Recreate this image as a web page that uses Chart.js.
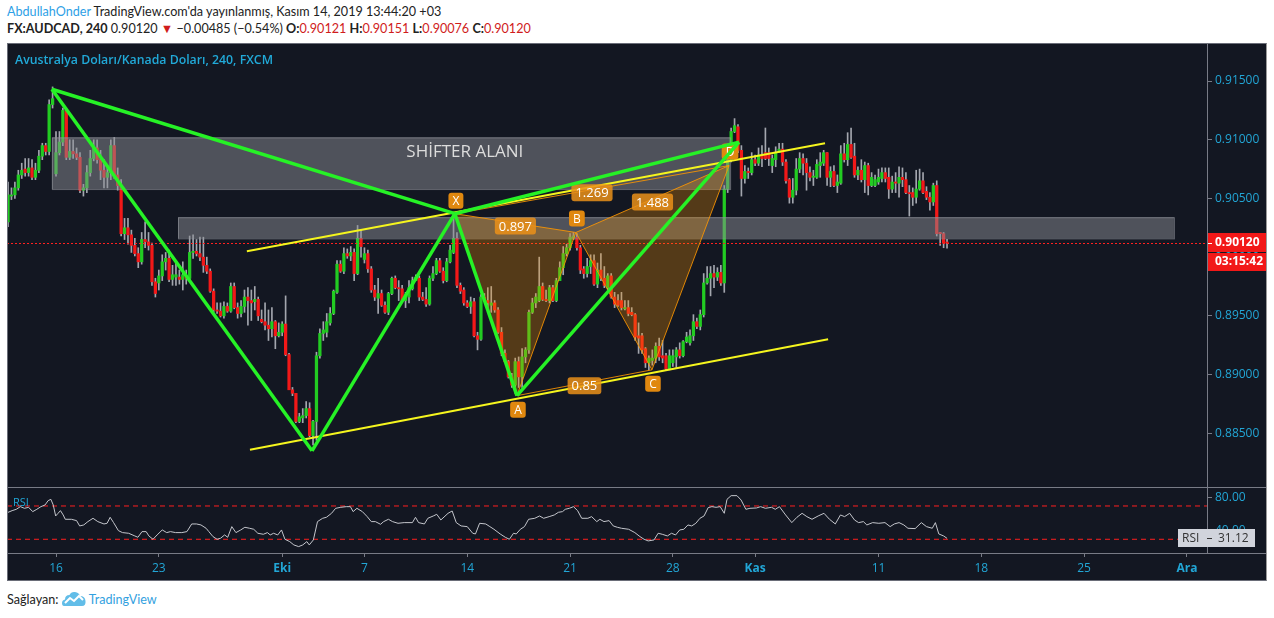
<!DOCTYPE html>
<html>
<head>
<meta charset="utf-8">
<script src="https://cdn.jsdelivr.net/npm/chart.js@4.4.0/dist/chart.umd.min.js"></script>
<style>
  body { margin:0; width:1274px; height:618px; background:#fff; position:relative; overflow:hidden; font-family:'Open Sans', sans-serif; }
  #h1 { position:absolute; left:7px; top:4px; font-family:Lato, sans-serif; font-size:12.6px; color:#222; white-space:nowrap; }
  #h1 .au { color:#2e9fe6; }
  #h2 { position:absolute; left:7px; top:21px; font-family:Lato, sans-serif; font-size:12.6px; color:#222; white-space:nowrap; }
  #h2 .r { color:#d01c1c; }
  #frame { position:absolute; left:7px; top:43px; width:1259px; height:537px; background:#131722; }
  #pricebox { position:absolute; left:0; top:0; }
  #rsibox { position:absolute; left:0; top:444px; }
  #border { position:absolute; left:7px; top:43px; width:1258px; height:536px; border:1px solid #6a6d78; border-right-color:#9a9a9a; pointer-events:none; }
  #title { position:absolute; left:15px; top:51px; font-size:12.3px; font-weight:600; color:#21a9d8; white-space:nowrap; }
  #foot { position:absolute; left:7px; top:591px; font-family:Lato, sans-serif; font-size:12.6px; color:#222; white-space:nowrap; display:flex; align-items:center; }
  #foot .tv { color:#33a1e0; margin-left:3px; }
</style>
</head>
<body>
<div id="h1"><span class="au">AbdullahOnder</span> TradingView.com'da yayınlanmış, Kasım 14, 2019 13:44:20 +03</div>
<div id="h2"><b>FX:AUDCAD, 240</b> 0.90120 <span class="r">▼</span> −0.00485 (−0.54%) <b>O:</b><span class="r">0.90121</span> <b>H:</b><span class="r">0.90151</span> <b>L:</b><span class="r">0.90076</span> <b>C:</b><span class="r">0.90120</span></div>
<div id="frame">
  <div id="pricebox"><canvas id="price" width="1259" height="444"></canvas></div>
  <div id="rsibox"><canvas id="rsi" width="1259" height="93"></canvas></div>
</div>
<div id="border"></div>
<div id="title">Avustralya Doları/Kanada Doları, 240, FXCM</div>
<div id="foot">Sağlayan:&nbsp;<svg width="24" height="16" viewBox="0 0 24 16"><path d="M2 15 Q0 15 0 12 Q0 9 3 8.5 Q3 4 7.5 4 Q9 0.5 13 1 Q17 1.5 18 5 Q23 5 23.5 10 Q24 15 20 15 Z" fill="#62bde8"/><path d="M3 12 L8 7 L12 10 L17 5 L21 9" stroke="#fff" stroke-width="2" fill="none"/></svg><span class="tv">TradingView</span></div>

<script>
// bar index 0 = first 4h bar of Mon 16 Sep 2019, 30 bars per week
const firstBar = -14

const opens = [
  .9030,.9052,.9053,.9059,.9070,.9075,.9072,.9076,.9068,.9074,
  .9086,.9095,.9090,.9130,.9071,.9089,.9098,.9125,.9085,.9090,
  .9088,.9085,.9057,.9059,.9072,.9084,.9093,.9083,.9074,.9068,
  .9072,.9095,.9070,.9061,.9020,.9025,.9019,.9010,.9003,.8996,
  .9015,.9013,.9010,.8979,.8978,.8984,.8996,.8999,.8981,.8983,
  .8983,.8981,.8983,.8982,.9004,.9005,.9003,.9000,.8993,.8988,
  .8971,.8955,.8954,.8950,.8958,.8954,.8975,.8957,.8952,.8958,
  .8966,.8963,.8962,.8964,.8947,.8945,.8942,.8939,.8945,.8933,
  .8936,.8943,.8917,.8887,.8884,.8860,.8863,.8865,.8871,.8848,
  .8860,.8916,.8935,.8936,.8944,.8952,.8970,.8994,.8988,.9003,
  .9001,.9004,.8986,.9016,.8998,.9003,.8990,.8972,.8965,.8969,
  .8959,.8953,.8969,.8982,.8974,.8973,.8963,.8966,.8973,.8980,
  .8982,.8966,.8964,.8960,.8982,.8986,.8997,.8988,.8980,.8996,
  .9004,.9016,.8976,.8972,.8961,.8958,.8962,.8933,.8930,.8966,
  .8963,.8959,.8961,.8955,.8936,.8918,.8911,.8898,.8891,.8911,
  .8898,.8915,.8921,.8953,.8961,.8963,.8975,.8964,.8963,.8974,
  .8963,.8980,.8991,.9003,.9008,.9016,.9017,.9008,.8990,.8986,
  .8992,.8997,.8977,.8989,.8982,.8974,.8984,.8966,.8963,.8963,
  .8956,.8957,.8953,.8951,.8933,.8933,.8922,.8910,.8912,.8914,
  .8924,.8916,.8916,.8905,.8910,.8915,.8921,.8916,.8928,.8927,
  .8933,.8945,.8941,.8951,.8978,.8982,.8986,.8983,.8987,.8978,
  .9058,.9083,.9107,.9111,.9091,.9067,.9073,.9072,.9083,.9080,
  .9087,.9089,.9089,.9078,.9083,.9089,.9092,.9081,.9066,.9051,
  .9057,.9075,.9084,.9080,.9072,.9068,.9068,.9078,.9080,.9089,
  .9068,.9073,.9061,.9063,.9088,.9083,.9096,.9086,.9070,.9074,
  .9066,.9078,.9061,.9061,.9064,.9067,.9072,.9068,.9058,.9064,
  .9063,.9068,.9066,.9055,.9055,.9051,.9058,.9065,.9056,.9051,
  .9047,.9061,.9021,.9020,.90121
]
const highs = [
  .9064,.9059,.9064,.9074,.9080,.9084,.9084,.9083,.9080,.9091,
  .9097,.9097,.9134,.9145,.9107,.9107,.9127,.9127,.9100,.9100,
  .9093,.9089,.9062,.9078,.9091,.9100,.9100,.9091,.9083,.9078,
  .9100,.9102,.9076,.9066,.9033,.9033,.9023,.9016,.9008,.9021,
  .9030,.9021,.9012,.8982,.8989,.9002,.9004,.9006,.8993,.8996,
  .8989,.8996,.8989,.9018,.9019,.9015,.9017,.9017,.9000,.8990,
  .8973,.8961,.8961,.8962,.8961,.8978,.8978,.8961,.8963,.8972,
  .8974,.8972,.8975,.8966,.8955,.8961,.8955,.8957,.8946,.8944,
  .8945,.8967,.8918,.8889,.8884,.8867,.8871,.8877,.8876,.8861,
  .8919,.8939,.8945,.8952,.8957,.8972,.8997,.8997,.9008,.9007,
  .9009,.9007,.9027,.9023,.9008,.9006,.8992,.8976,.8982,.8972,
  .8962,.8970,.8983,.8984,.8980,.8976,.8970,.8980,.8983,.8985,
  .8984,.8970,.8974,.8984,.8992,.8999,.8999,.8991,.8999,.9010,
  .9037,.9021,.8978,.8974,.8963,.8966,.8965,.8936,.8968,.8969,
  .8974,.8975,.8963,.8957,.8940,.8921,.8912,.8901,.8914,.8915,
  .8922,.8923,.8955,.8965,.8969,.9000,.8978,.8972,.8976,.8976,
  .8982,.8996,.9009,.9011,.9020,.9021,.9020,.9010,.8992,.8999,
  .9002,.9002,.8995,.9003,.8992,.8986,.8986,.8970,.8968,.8970,
  .8963,.8963,.8957,.8952,.8944,.8935,.8923,.8916,.8921,.8927,
  .8931,.8929,.8918,.8921,.8921,.8923,.8927,.8929,.8936,.8938,
  .8951,.8948,.8955,.8986,.8992,.8992,.8993,.8991,.8993,.9061,
  .9087,.9110,.9118,.9113,.9095,.9078,.9076,.9089,.9087,.9093,
  .9095,.9110,.9093,.9087,.9094,.9097,.9097,.9083,.9067,.9067,
  .9084,.9089,.9088,.9084,.9077,.9074,.9083,.9089,.9091,.9089,
  .9077,.9078,.9070,.9095,.9097,.9106,.9110,.9097,.9077,.9083,
  .9081,.9080,.9072,.9070,.9075,.9076,.9076,.9076,.9069,.9072,
  .9077,.9076,.9072,.9061,.9059,.9074,.9075,.9072,.9060,.9055,
  .9063,.9065,.9021,.9021,.90151
]
const lows = [
  .9026,.9049,.9050,.9057,.9067,.9069,.9069,.9066,.9066,.9072,
  .9083,.9087,.9087,.9127,.9069,.9087,.9095,.9083,.9083,.9084,
  .9083,.9055,.9052,.9055,.9069,.9082,.9080,.9066,.9059,.9059,
  .9066,.9067,.9057,.9018,.9015,.9011,.9004,.9001,.8991,.8994,
  .9008,.9006,.8976,.8966,.8972,.8980,.8989,.8979,.8976,.8976,
  .8977,.8972,.8977,.8980,.8999,.9001,.8997,.8987,.8986,.8970,
  .8953,.8952,.8949,.8948,.8953,.8953,.8956,.8948,.8949,.8953,
  .8942,.8946,.8955,.8946,.8944,.8938,.8929,.8932,.8922,.8932,
  .8933,.8916,.8887,.8882,.8859,.8859,.8859,.8863,.8847,.8840,
  .8844,.8914,.8929,.8932,.8942,.8951,.8969,.8987,.8986,.8999,
  .8997,.8980,.8985,.9000,.8995,.8987,.8970,.8963,.8952,.8958,
  .8952,.8951,.8968,.8973,.8963,.8962,.8957,.8961,.8972,.8980,
  .8963,.8963,.8958,.8959,.8980,.8985,.8987,.8978,.8979,.8995,
  .9003,.8974,.8969,.8959,.8957,.8952,.8932,.8921,.8929,.8962,
  .8957,.8953,.8953,.8935,.8916,.8910,.8897,.8889,.8884,.8889,
  .8889,.8910,.8918,.8952,.8957,.8962,.8963,.8962,.8961,.8962,
  .8962,.8980,.8985,.9001,.9006,.9015,.9006,.8986,.8982,.8983,
  .8986,.8976,.8974,.8980,.8974,.8972,.8965,.8957,.8958,.8955,
  .8955,.8950,.8950,.8929,.8918,.8918,.8906,.8904,.8908,.8910,
  .8912,.8910,.8904,.8904,.8907,.8906,.8914,.8915,.8927,.8925,
  .8929,.8939,.8938,.8949,.8977,.8967,.8974,.8980,.8976,.8970,
  .9055,.9081,.9106,.9089,.9052,.9063,.9067,.9070,.9078,.9078,
  .9077,.9083,.9078,.9072,.9077,.9089,.9078,.9063,.9046,.9046,
  .9053,.9072,.9070,.9057,.9065,.9061,.9067,.9068,.9078,.9061,
  .9060,.9060,.9055,.9062,.9081,.9078,.9084,.9068,.9066,.9064,
  .9055,.9053,.9060,.9060,.9062,.9064,.9064,.9050,.9055,.9055,
  .9051,.9060,.9054,.9035,.9044,.9046,.9057,.9054,.9049,.9040,
  .9044,.9018,.9010,.9008,.90076
]
const closes = [
  .9053,.9053,.9059,.9070,.9074,.9072,.9076,.9068,.9074,.9086,
  .9095,.9090,.9130,.9135,.9089,.9098,.9125,.9085,.9090,.9088,
  .9085,.9057,.9059,.9072,.9084,.9093,.9083,.9074,.9068,.9072,
  .9095,.9070,.9061,.9020,.9025,.9019,.9010,.9003,.8996,.9015,
  .9013,.9010,.8979,.8969,.8984,.8996,.8999,.8981,.8985,.8985,
  .8981,.8985,.8982,.9004,.9005,.9003,.9000,.8993,.8988,.8971,
  .8955,.8954,.8950,.8958,.8954,.8975,.8957,.8952,.8958,.8966,
  .8963,.8961,.8964,.8950,.8945,.8942,.8939,.8945,.8933,.8936,
  .8943,.8917,.8887,.8884,.8860,.8864,.8865,.8871,.8848,.8860,
  .8916,.8935,.8938,.8945,.8952,.8971,.8994,.8988,.9003,.9001,
  .9004,.8986,.9016,.9009,.9003,.8990,.8972,.8966,.8969,.8959,
  .8953,.8969,.8982,.8974,.8973,.8963,.8968,.8974,.8980,.8983,
  .8966,.8964,.8960,.8982,.8986,.8997,.8988,.8980,.8996,.9006,
  .9016,.8976,.8971,.8961,.8958,.8962,.8933,.8930,.8966,.8963,
  .8961,.8961,.8955,.8936,.8918,.8911,.8898,.8891,.8911,.8898,
  .8915,.8921,.8953,.8961,.8966,.8975,.8964,.8963,.8974,.8963,
  .8980,.8991,.9003,.9008,.9017,.9018,.9008,.8989,.8986,.8992,
  .8997,.8977,.8989,.8982,.8976,.8984,.8966,.8960,.8959,.8957,
  .8957,.8952,.8951,.8932,.8931,.8921,.8910,.8914,.8914,.8924,
  .8915,.8914,.8905,.8916,.8916,.8921,.8916,.8928,.8932,.8933,
  .8945,.8941,.8951,.8978,.8982,.8986,.8983,.8987,.8978,.9058,
  .9083,.9107,.9112,.9091,.9067,.9073,.9072,.9083,.9080,.9087,
  .9084,.9084,.9084,.9084,.9089,.9092,.9081,.9065,.9051,.9057,
  .9075,.9084,.9080,.9072,.9068,.9069,.9079,.9081,.9089,.9068,
  .9073,.9061,.9064,.9088,.9083,.9096,.9085,.9070,.9074,.9066,
  .9078,.9061,.9068,.9066,.9068,.9072,.9067,.9058,.9064,.9063,
  .9068,.9066,.9055,.9054,.9051,.9058,.9065,.9055,.9051,.9047,
  .9061,.9020,.9020,.9012,.90120
]

// RSI(14): [bar, value]
const rsiPoints = [
  [-14.2,62],[-12.8,64.4],[-11.6,66],[-10.4,69.2],[-9.2,67.2],[-8,68.4],[-6.8,63.2],[-5.6,66],[-4.4,69.2],[-3.2,71.2],
  [-2.3,76.4],[-1.5,78],[-0.8,71.2],[-0.1,58],[0.6,61.2],[1.3,64.4],[2.1,59.2],[2.7,54],[4.5,54],[6,52.4],
  [6.9,46],[8.1,47.2],[9.3,51.2],[10.8,55.2],[12.2,51.2],[14,48.4],[14.9,49.2],[15.8,56.4],[16.8,50],[18.2,40.4],
  [19.4,38],[21.2,37.2],[23,34],[23.9,32.4],[25.1,39.2],[26.3,39.2],[27.1,34],[28.3,30],[29.5,35.2],[31,41.2],
  [32.3,38],[33.4,39.2],[34.9,38],[36.7,38],[38.2,39.2],[39.6,48.4],[41,48.4],[42.3,47.2],[43.8,43.2],[44.6,39.2],
  [45.8,33.2],[47,30],[48,31.2],[49.2,35.2],[50.1,32.4],[51.3,45.2],[52.5,38],[53.9,41.2],[55.1,44.4],[56.5,43.2],
  [57.7,42],[58.9,37.2],[60.5,36],[61.7,38],[62.5,35.2],[63.5,37.2],[64.7,35.2],[65.8,41.2],[66.8,30],[68.2,27.2],
  [69.4,23.2],[70.8,21.2],[72,23.2],[73.2,27.2],[73.9,23.2],[75.1,29.2],[76.3,51.2],[77.8,55.2],[78.9,56.4],[80.4,61.2],
  [81.6,67.2],[83.1,68.4],[84.7,69.2],[85.9,69.2],[86.7,63.2],[87.8,67.2],[89.4,63.2],[90.8,57.2],[92,51.2],[93.2,51.2],
  [94.7,48],[95.6,51.2],[97,54],[98.2,51.2],[99.8,49.2],[101.6,50],[104,50],[104.9,56.4],[105.8,50],[107.5,48.4],
  [108.5,55.2],[110.1,58],[111.1,60],[112.3,53.2],[114.4,61.2],[115.6,64],[116.8,50],[118.2,46],[120,45.2],[121.6,37.2],
  [122.4,36.4],[123.6,49.2],[125.4,48.4],[126.6,45.2],[127.8,42],[129.6,36.4],[131.1,32.4],[132.3,30],[133.5,37.2],[134.3,36.4],
  [135.5,42],[136.7,45.2],[137.9,54],[139.7,55.2],[141.1,58],[142.3,55.2],[143.9,57.2],[145.4,59.2],[146.6,62.4],[147.8,63.2],
  [148.6,66],[149.8,67.2],[151,69.2],[152.2,64.4],[153.4,55.2],[155.2,55.2],[156.3,57.2],[157.8,51.2],[158.7,54],[159.9,51.2],
  [161.4,52.4],[162.6,46],[163.8,44.4],[165,43.2],[167.1,42],[168.9,38],[170.4,33.2],[171.6,30],[172.8,28],[174.5,29.2],
  [175.7,37.2],[176.9,36],[178.4,34],[179.6,37.2],[180.8,35.2],[182,41.2],[183.2,42],[184.4,47.2],[185.5,46],[186.7,49.2],
  [187.9,55.2],[189.1,58],[190.3,68],[191.4,69.2],[192.6,68.4],[193.8,69.2],[195,61.2],[195.8,78],[197,82.4],[198.7,82.4],
  [199.9,77.2],[201.3,66],[202.5,67.2],[204.4,67.6],[205.6,69.2],[207,67.2],[208.8,68.4],[209.9,66],[211.1,69.2],[212.9,59.2],
  [214.7,50],[216.2,56.4],[217.7,61.2],[219.1,57.2],[220.6,54],[222.4,58],[224.1,61.2],[225.7,54],[227.4,48.4],[228.9,59.2],
  [230.1,57.2],[231.6,61.2],[233,53.2],[234.2,50],[235.6,51.2],[236.6,47.2],[238.3,50],[240.1,49.2],[241.9,50],[243.4,45.2],
  [244.6,48.4],[246,50],[247.4,47.2],[248.6,43.2],[250.7,42.8],[252.5,50],[254,45.2],[255.7,43.2],[256.6,50],[257.6,36.4],
  [259,34],[260,31.12]
]
const rsiBands = [70, 30]
const rsiLast = 31.12

const priceTicks = [0.885, 0.890, 0.895, 0.900, 0.905, 0.910, 0.915]
const rsiTicks = [40, 80]
const tickBars = [0, 30, 66, 90, 120, 150, 180, 204, 240, 270, 300, 330]
const tickLabels = ['16', '23', 'Eki', '7', '14', '21', '28', 'Kas', '11', '18', '25', 'Ara']
const monthLabels = ['Eki', 'Kas', 'Ara']

const lastPrice = 0.90120
const countdown = '03:15:42'

// drawings, in [bar, price]
const zones = [
  { from: [-1.2, 0.9102], to: [196.7, 0.9058], text: 'SHİFTER ALANI', textAt: [119.3, 0.9089] },
  { from: [35.6, 0.9034], to: [326.2, 0.9016] }
]
const waveBars = [-1.2, 74.7, 116.4, 134.5, 199.3]
const wavePrices = [0.9143, 0.8835, 0.9037, 0.8882, 0.9098]
const waveSegments = [[0, 1], [1, 2], [0, 2], [2, 3], [2, 4], [3, 4]]
const channels = [
  [[55.7, 0.9005], [224.4, 0.9097]],
  [[56.6, 0.8836], [225.3, 0.8930]]
]
const patternNames = ['X', 'A', 'B', 'C', 'D']
const patternBars = [116.4, 134.5, 151.7, 173.9, 196.4]
const patternPrices = [0.9037, 0.8882, 0.9021, 0.8904, 0.9078]
const ratioLabels = ['0.897', '1.269', '0.85', '1.488']
const ratioLegs = [[0, 2], [0, 4], [1, 3], [2, 4]]

const GREEN = '#22cc22'
const RED = '#f21818'
const TEAL = '#22a6d6'
const LINE = '#787b86'
const xMin = -14.3, xMax = 335.86

Chart.defaults.font.family = "'Open Sans', sans-serif"

const barX = opens.map(function (v, k) { return firstBar + k })

function roundBox(ctx, x, y, w, h, r) {
  ctx.beginPath()
  ctx.moveTo(x + r, y)
  ctx.arcTo(x + w, y, x + w, y + h, r)
  ctx.arcTo(x + w, y + h, x, y + h, r)
  ctx.arcTo(x, y + h, x, y, r)
  ctx.arcTo(x, y, x + w, y, r)
  ctx.closePath()
}

function tag(ctx, text, cx, cy, bg, size) {
  ctx.font = size + "px 'Open Sans'"
  const w = ctx.measureText(text).width + 8
  const h = size + 4
  ctx.fillStyle = bg
  roundBox(ctx, cx - w / 2, cy - h / 2, w, h, 3)
  ctx.fill()
  ctx.fillStyle = '#fff'
  ctx.textAlign = 'center'
  ctx.textBaseline = 'middle'
  ctx.fillText(text, cx, cy + 1)
}

const drawings = {
  id: 'drawings',
  afterDatasetsDraw(chart) {
    const ctx = chart.ctx, a = chart.chartArea
    const x = chart.scales.x, y = chart.scales.y
    const px = function (i) { return x.getPixelForValue(i) }
    const py = function (p) { return y.getPixelForValue(p) }
    ctx.save()
    ctx.beginPath()
    ctx.rect(a.left, a.top, a.width, a.height)
    ctx.clip()

    zones.forEach(function (z) {
      const x0 = px(z.from[0]), x1 = px(z.to[0]), y0 = py(z.from[1]), y1 = py(z.to[1])
      ctx.fillStyle = 'rgba(140,141,148,0.5)'
      ctx.fillRect(x0, y0, x1 - x0, y1 - y0)
      ctx.strokeStyle = 'rgba(150,152,160,0.6)'
      ctx.lineWidth = 1
      ctx.strokeRect(x0 + 0.5, y0 + 0.5, x1 - x0, y1 - y0)
      if (z.text) {
        ctx.fillStyle = '#dcdcdc'
        ctx.font = "17px 'Open Sans'"
        ctx.textAlign = 'center'
        ctx.textBaseline = 'middle'
        ctx.fillText(z.text, px(z.textAt[0]), py(z.textAt[1]))
      }
    })

    // last price line
    ctx.strokeStyle = '#ff2020'
    ctx.setLineDash([2, 2])
    ctx.beginPath()
    ctx.moveTo(a.left, Math.round(py(lastPrice)) + 0.5)
    ctx.lineTo(a.right, Math.round(py(lastPrice)) + 0.5)
    ctx.stroke()
    ctx.setLineDash([])

    // harmonic pattern
    const P = patternBars.map(function (b, k) { return [px(b), py(patternPrices[k])] })
    ctx.fillStyle = 'rgba(255,152,0,0.28)'
    ;[[0, 1, 2], [2, 3, 4]].forEach(function (t) {
      ctx.beginPath()
      ctx.moveTo(P[t[0]][0], P[t[0]][1])
      ctx.lineTo(P[t[1]][0], P[t[1]][1])
      ctx.lineTo(P[t[2]][0], P[t[2]][1])
      ctx.closePath()
      ctx.fill()
    })
    ctx.strokeStyle = 'rgba(255,152,0,0.85)'
    ctx.lineWidth = 1
    ctx.beginPath()
    P.forEach(function (p, k) { if (k) ctx.lineTo(p[0], p[1]); else ctx.moveTo(p[0], p[1]) })
    ctx.stroke()
    ratioLegs.forEach(function (l) {
      ctx.beginPath()
      ctx.moveTo(P[l[0]][0], P[l[0]][1])
      ctx.lineTo(P[l[1]][0], P[l[1]][1])
      ctx.stroke()
    })

    // channel
    ctx.strokeStyle = '#f5f51e'
    ctx.lineWidth = 2
    channels.forEach(function (c) {
      ctx.beginPath()
      ctx.moveTo(px(c[0][0]), py(c[0][1]))
      ctx.lineTo(px(c[1][0]), py(c[1][1]))
      ctx.stroke()
    })

    // labels
    ratioLegs.forEach(function (l, k) {
      tag(ctx, ratioLabels[k], (P[l[0]][0] + P[l[1]][0]) / 2, (P[l[0]][1] + P[l[1]][1]) / 2 + 3, 'rgba(235,145,25,0.85)', 13)
    })
    const offs = [-13, 14, -14, 14, -14]
    P.forEach(function (p, k) {
      tag(ctx, patternNames[k], p[0] + 1, p[1] + offs[k], '#e0880f', 12)
    })

    // waves
    ctx.strokeStyle = '#26f226'
    ctx.lineWidth = 3.5
    ctx.lineJoin = 'round'
    waveSegments.forEach(function (s) {
      ctx.beginPath()
      ctx.moveTo(px(waveBars[s[0]]), py(wavePrices[s[0]]))
      ctx.lineTo(px(waveBars[s[1]]), py(wavePrices[s[1]]))
      ctx.stroke()
    })
    ctx.restore()
  },
  afterDraw(chart) {
    const ctx = chart.ctx, a = chart.chartArea
    const yy = Math.round(chart.scales.y.getPixelForValue(lastPrice))
    ctx.save()
    ctx.fillStyle = '#f21818'
    ctx.fillRect(a.right + 1, yy - 10, chart.width - a.right - 1, 19)
    ctx.fillRect(a.right + 1, yy + 10, chart.width - a.right - 1, 18)
    ctx.fillStyle = '#fff'
    ctx.font = "bold 12px 'Open Sans'"
    ctx.textBaseline = 'middle'
    ctx.fillText(lastPrice.toFixed(5), a.right + 8, yy)
    ctx.fillText(countdown, a.right + 8, yy + 19)
    ctx.fillRect(a.right + 1, yy, 4, 1)
    ctx.restore()
  }
}

new Chart(document.getElementById('price'), {
  type: 'bar',
  data: {
    datasets: [
      {
        data: barX.map(function (b, k) { return { x: b, y: [lows[k], highs[k]] } }),
        backgroundColor: '#a3a6ae',
        barThickness: 1,
        grouped: false,
        order: 2
      },
      {
        data: barX.map(function (b, k) { return { x: b, y: [opens[k], closes[k]] } }),
        backgroundColor: function (c) { return closes[c.dataIndex] >= opens[c.dataIndex] ? GREEN : RED },
        barThickness: 2.6,
        minBarLength: 1,
        grouped: false,
        order: 1
      }
    ]
  },
  options: {
    responsive: false,
    animation: false,
    layout: { padding: 0 },
    plugins: { legend: { display: false }, tooltip: { enabled: false } },
    scales: {
      x: { type: 'linear', min: xMin, max: xMax, display: false, offset: false },
      y: {
        position: 'right',
        min: 0.88042,
        max: 0.91824,
        afterBuildTicks: function (s) { s.ticks = priceTicks.map(function (v) { return { value: v } }) },
        afterFit: function (s) { s.width = 59; s.paddingTop = 0; s.paddingBottom = 0 },
        ticks: { color: TEAL, font: { size: 12 }, padding: 3, callback: function (v) { return v.toFixed(5) } },
        grid: { drawOnChartArea: false, color: LINE, tickLength: 5 },
        border: { color: LINE }
      }
    }
  },
  plugins: [drawings]
})

const rsiDecor = {
  id: 'rsiDecor',
  afterDraw(chart) {
    const ctx = chart.ctx, a = chart.chartArea
    const yv = Math.round(chart.scales.y.getPixelForValue(rsiLast))
    ctx.save()
    ctx.fillStyle = LINE
    ctx.fillRect(0, 0, chart.width, 1)
    ctx.fillRect(0, a.bottom, chart.width, 1)
    ctx.fillStyle = TEAL
    ctx.font = "11px 'Open Sans'"
    ctx.textBaseline = 'middle'
    ctx.fillText('RSI', 6, 16)
    ctx.fillStyle = '#d1d4dc'
    ctx.fillRect(a.right - 29, yv - 9, 77, 18)
    ctx.fillStyle = '#333'
    ctx.font = "12px 'Open Sans'"
    ctx.fillText('RSI', a.right - 25, yv + 1)
    ctx.fillText(rsiLast.toFixed(2), a.right + 11, yv + 1)
    ctx.fillRect(a.right, yv, 5, 1)
    ctx.restore()
  }
}

new Chart(document.getElementById('rsi'), {
  type: 'line',
  data: {
    datasets: [
      {
        data: rsiPoints.map(function (p) { return { x: p[0], y: p[1] } }),
        borderColor: '#c4c6cc',
        borderWidth: 1,
        pointRadius: 0,
        tension: 0
      }
    ].concat(rsiBands.map(function (v) {
      return {
        data: [{ x: xMin, y: v }, { x: xMax, y: v }],
        borderColor: '#ff1f1f',
        borderWidth: 1,
        borderDash: [5, 4],
        pointRadius: 0
      }
    }))
  },
  options: {
    responsive: false,
    animation: false,
    layout: { padding: 0 },
    plugins: { legend: { display: false }, tooltip: { enabled: false } },
    scales: {
      x: {
        type: 'linear',
        min: xMin,
        max: xMax,
        afterBuildTicks: function (s) { s.ticks = tickBars.map(function (v) { return { value: v } }) },
        afterFit: function (s) { s.height = 27; s.paddingLeft = 0; s.paddingRight = 0 },
        ticks: {
          color: TEAL,
          autoSkip: false,
          maxRotation: 0,
          padding: 4,
          font: function (c) { return { size: 12, weight: monthLabels.indexOf(tickLabels[c.index]) >= 0 ? 'bold' : 'normal' } },
          callback: function (v, i) { return tickLabels[i] }
        },
        grid: { drawOnChartArea: false, color: LINE, tickLength: 4 },
        border: { display: false }
      },
      y: {
        position: 'right',
        min: 13.5,
        max: 92.8,
        afterBuildTicks: function (s) { s.ticks = rsiTicks.map(function (v) { return { value: v } }) },
        afterFit: function (s) { s.width = 59; s.paddingTop = 0; s.paddingBottom = 0 },
        ticks: { color: TEAL, font: { size: 12 }, padding: 3, callback: function (v) { return v.toFixed(2) } },
        grid: { drawOnChartArea: false, color: LINE, tickLength: 5 },
        border: { color: LINE }
      }
    }
  },
  plugins: [rsiDecor]
})
</script>
</body>
</html>
